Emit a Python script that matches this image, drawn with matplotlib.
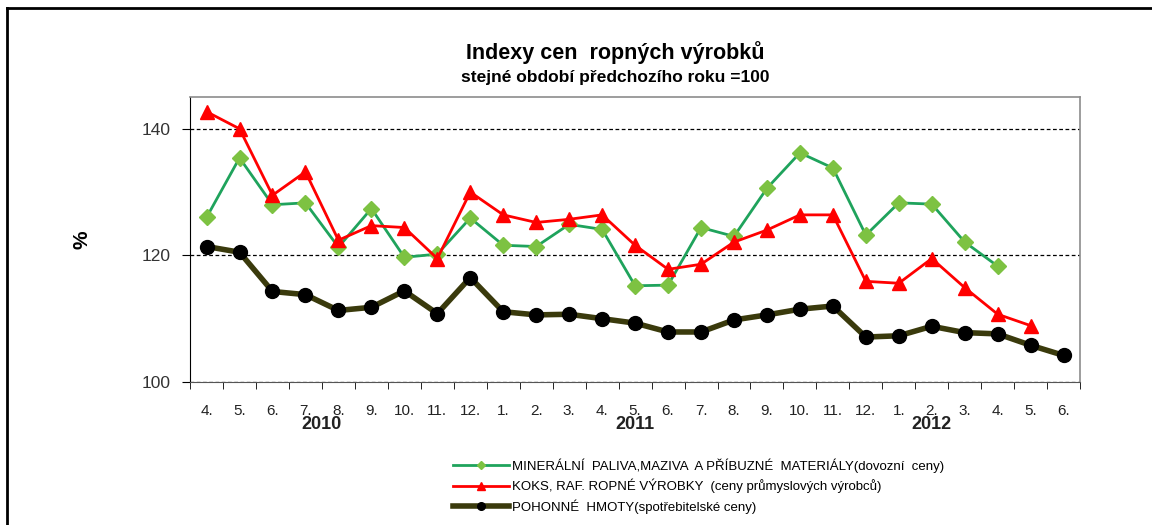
import matplotlib.pyplot as plt
from matplotlib.lines import Line2D

plt.rcParams['font.family'] = ['Liberation Sans', 'DejaVu Sans']

# month labels 4.2010 .. 6.2012
months = ["4.", "5.", "6.", "7.", "8.", "9.", "10.", "11.", "12.",
          "1.", "2.", "3.", "4.", "5.", "6.", "7.", "8.", "9.", "10.", "11.", "12.",
          "1.", "2.", "3.", "4.", "5.", "6."]
years = ["2010", "2011", "2012"]
year_pos = [3.5, 13, 22]

mineralni = [126.0, 135.4, 128.0, 128.3, 121.3, 127.4, 119.7, 120.2, 125.9,
             121.6, 121.4, 124.9, 124.1, 115.2, 115.3, 124.4, 123.0, 130.6,
             136.2, 133.8, 123.2, 128.3, 128.1, 122.1, 118.3]
koks = [142.7, 140.0, 129.5, 133.2, 122.4, 124.7, 124.4, 119.5, 130.0,
        126.4, 125.2, 125.7, 126.4, 121.6, 117.8, 118.6, 122.1, 124.0,
        126.4, 126.4, 115.9, 115.6, 119.5, 114.9, 110.7, 108.9]
pohonne = [121.4, 120.5, 114.3, 113.8, 111.3, 111.8, 114.4, 110.8, 116.5,
           111.1, 110.6, 110.7, 110.0, 109.3, 107.9, 107.9, 109.8, 110.6,
           111.5, 112.0, 107.1, 107.3, 108.8, 107.8, 107.6, 105.8, 104.2]

labels = ["MINERÁLNÍ  PALIVA,MAZIVA  A PŘÍBUZNÉ  MATERIÁLY(dovozní  ceny)",
          "KOKS, RAF. ROPNÉ VÝROBKY  (ceny průmyslových výrobců)",
          "POHONNÉ  HMOTY(spotřebitelské ceny)"]

fig = plt.figure(figsize=(11.52, 5.25), dpi=100)
ax = fig.add_axes([0.165, 0.2724, 0.7726, 0.5426])

x = list(range(len(months)))
ax.plot(x[:len(mineralni)], mineralni, color="#1fa35c", lw=2, marker="D",
        ms=8, mfc="#7dc242", mec="#7dc242", label=labels[0], zorder=3)
ax.plot(x[:len(koks)], koks, color="#ff0000", lw=2, marker="^",
        ms=10, mfc="#ff0000", mec="#ff0000", label=labels[1], zorder=4)
ax.plot(x, pohonne, color="#3a3a0c", lw=4, marker="o",
        ms=10, mfc="black", mec="black", label=labels[2], zorder=5)

ax.set_xlim(-0.5, len(months) - 0.5)
ax.set_ylim(100, 145)
ax.set_yticks([100, 120, 140])
ax.tick_params(axis="y", labelsize=12.5, labelcolor="#333333", length=6,
               direction="out", pad=8)
ax.set_xticks(x)
ax.set_xticklabels(months)
ax.set_xticks([i - 0.5 for i in range(len(months) + 1)], minor=True)
ax.tick_params(axis="x", which="major", length=0, labelsize=11,
               labelcolor="#222222", pad=16)
ax.tick_params(axis="x", which="minor", length=5, direction="out")
for xp, yr in zip(year_pos, years):
    ax.text(xp, -0.15, yr, transform=ax.get_xaxis_transform(), ha="center",
            va="center", fontsize=13, fontweight="bold", color="#222222")

ax.grid(axis="y", linestyle=(0, (3, 2)), color="black", lw=0.9)
ax.set_axisbelow(True)
for s in ["top", "right"]:
    ax.spines[s].set_color("#8c8c8c")
    ax.spines[s].set_linewidth(1.2)
ax.spines["left"].set_color("black")
ax.spines["bottom"].set_color("#555555")

ax.set_ylabel("%", fontsize=15, fontweight="bold", labelpad=36)

fig.text(0.534, 0.9, "Indexy cen  ropných výrobků", ha="center",
         va="center", fontsize=15.5, fontweight="bold")
fig.text(0.534, 0.852, "stejné období předchozího roku =100", ha="center",
         va="center", fontsize=12.5, fontweight="bold")

ax.legend(loc="upper left", bbox_to_anchor=(0.29, -0.25), frameon=False,
          fontsize=9.5, handlelength=4.2, handletextpad=0.2, labelspacing=0.45,
          markerscale=0.55, borderaxespad=0)

# outer chart frame (left and top edges)
fig.add_artist(Line2D([0.0065, 0.0065], [0.0, 0.985], color="black", lw=2,
                      transform=fig.transFigure))
fig.add_artist(Line2D([0.0065, 1.0], [0.985, 0.985], color="black", lw=2,
                      transform=fig.transFigure))

fig.savefig("out.png", dpi=100)
